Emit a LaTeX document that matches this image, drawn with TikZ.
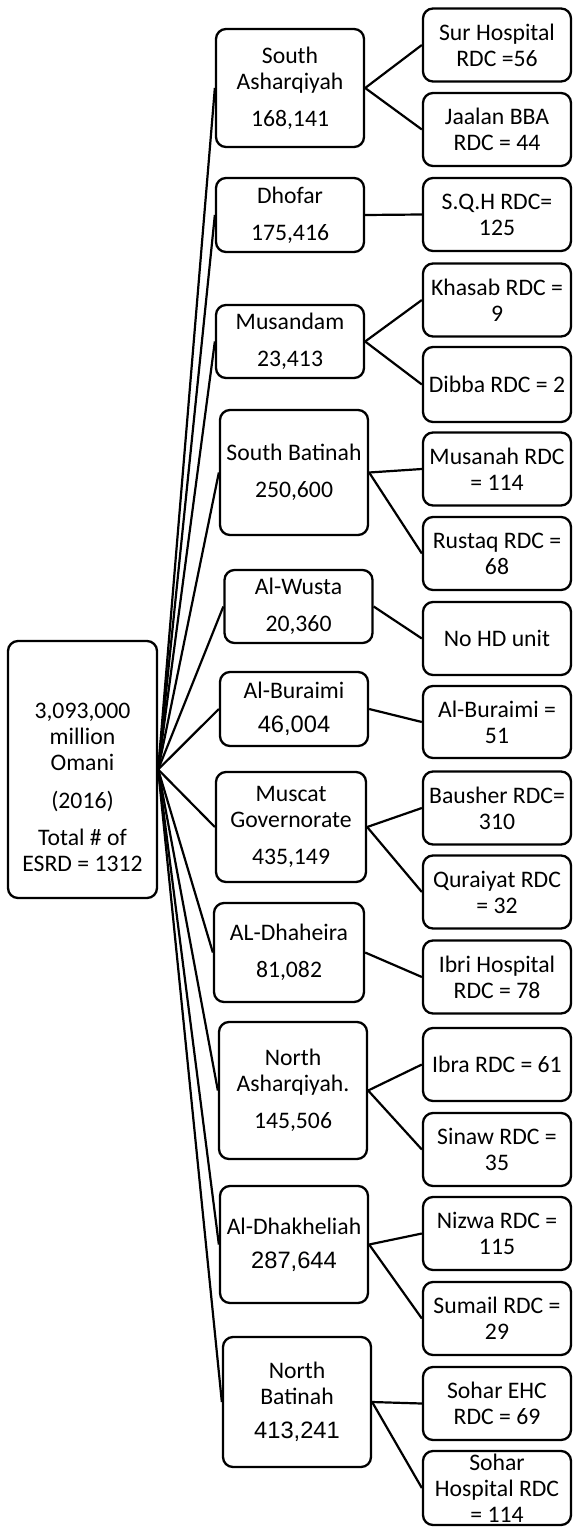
\documentclass[tikz,border=0pt]{standalone}
\usepackage{fontspec}
\setmainfont{Carlito}
\newfontfamily\arialnum{Liberation Sans}
\begin{document}
\begin{tikzpicture}[x=1pt,y=-1pt,
  box/.style={draw, line width=2.3pt, rounded corners=10pt, inner sep=0pt,
    align=center, font=\fontsize{23.7}{26}\selectfont},
  region/.style={box, minimum width=148pt},
  leaf/.style={box, minimum width=148pt, minimum height=73pt},
  txt/.style={inner sep=0pt, align=center, font=\fontsize{23.7}{26}\selectfont},
  link/.style={line width=2.2pt}]
\useasboundingbox (0,0) rectangle (573,1533);

% country total
\node[box, minimum width=149pt, minimum height=257pt] (root) at (82.5,769.5) {};
\node[txt] (roottext) at (82.5,787.5)
  {3,093,000\\million\\Omani\\[12pt](2016)\\[11pt]Total \# of\\ESRD = 1312};

% governorates
\node[region, minimum height=118pt] (sa) at (290,88) {South\\Asharqiyah\\[11pt]168,141};
\node[region, minimum height=74pt] (dh) at (290,215) {Dhofar\\[11pt]175,416};
\node[region, minimum height=73pt] (mu) at (290,341.5) {Musandam\\[11pt]23,413};
\node[region, minimum height=125pt] (sb) at (294,472.5) {South Batinah\\[11pt]250,600};
\node[region, minimum height=73pt] (aw) at (298.5,606.5) {Al-Wusta\\[11pt]20,360};
\node[region, minimum height=74pt] (ab) at (294,709) {Al-Buraimi\\[8pt]{\arialnum 46,004}};
\node[region, minimum width=150pt, minimum height=110pt] (mg) at (291,827) {Muscat\\Governorate\\[11pt]435,149};
\node[region, minimum width=150pt, minimum height=99pt] (ad) at (289,952.5) {AL-Dhaheira\\[11pt]81,082};
\node[region, minimum height=137pt] (na) at (293,1090.5) {North\\Asharqiyah.\\[11pt]145,506};
\node[region, minimum height=117pt] (dk) at (294,1244.5) {Al-Dhakheliah\\[8pt]{\arialnum 287,644}};
\node[region, minimum height=130pt] (nb) at (297,1402) {North\\Batinah\\[8pt]{\arialnum 413,241}};

% dialysis centres
\node[leaf] (l1) at (497,45) {Sur Hospital\\RDC =56};
\node[leaf] (l2) at (497,129.5) {Jaalan BBA\\RDC = 44};
\node[leaf] (l3) at (497,214.5) {S.Q.H RDC=\\125};
\node[leaf] (l4) at (497,300) {Khasab RDC =\\9};
\node[leaf, minimum height=75pt] (l5) at (497,384.5) {Dibba RDC = 2};
\node[leaf] (l6) at (497,469) {Musanah RDC\\= 114};
\node[leaf] (l7) at (497,553.5) {Rustaq RDC =\\68};
\node[leaf] (l8) at (497,638.5) {No HD unit};
\node[leaf, minimum height=72pt] (l9) at (497,722) {Al-Buraimi =\\51};
\node[leaf] (l10) at (497,808) {Bausher RDC=\\310};
\node[leaf] (l11) at (497,892) {Quraiyat RDC\\= 32};
\node[leaf] (l12) at (497,977) {Ibri Hospital\\RDC = 78};
\node[leaf] (l13) at (497,1064.5) {Ibra RDC = 61};
\node[leaf] (l14) at (497,1149.5) {Sinaw RDC =\\35};
\node[leaf] (l15) at (497,1233.5) {Nizwa RDC =\\115};
\node[leaf] (l16) at (497,1318.5) {Sumail RDC =\\29};
\node[leaf] (l17) at (497,1403.5) {Sohar EHC\\RDC = 69};
\node[leaf, minimum height=74pt] (l18) at (497,1488) {Sohar\\Hospital RDC\\= 114};

% country to governorates
\foreach \r in {sa,dh,mu,sb,aw,ab,mg,ad,na,dk,nb}
  \draw[link] (root.east) -- (\r.west);

% governorates to centres
\foreach \r/\l in {sa/l1,sa/l2,dh/l3,mu/l4,mu/l5,sb/l6,sb/l7,aw/l8,ab/l9,
                   mg/l10,mg/l11,ad/l12,na/l13,na/l14,dk/l15,dk/l16,nb/l17,nb/l18}
  \draw[link] (\r.east) -- (\l.west);
\end{tikzpicture}
\end{document}
